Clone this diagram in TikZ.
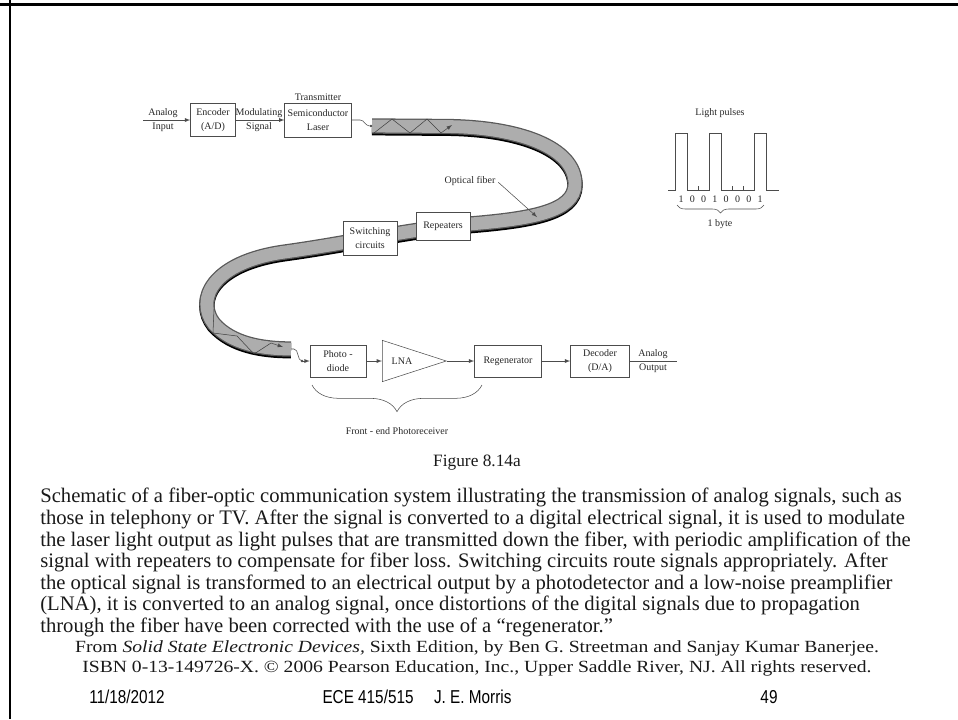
\documentclass[tikz,border=0pt]{standalone}
\usepackage{fontspec}
\setmainfont{Liberation Serif}
\newfontfamily\narrowsf[FakeStretch=0.82]{Liberation Sans}
\newfontfamily\widerm[FakeStretch=1.15]{Liberation Serif}
\usetikzlibrary{shapes.geometric,decorations.pathreplacing}
\newcommand\figsize{\fontsize{7.5}{10.5}\selectfont}
\newcommand\capsize{\fontsize{15.5}{16}\selectfont}

\begin{document}
\begin{tikzpicture}[x=0.75pt,y=-0.75pt]
\tikzstyle{box}=[draw=black!70,fill=white,align=center,inner sep=0pt,text=black!85,font=\figsize];
\tikzstyle{lbl}=[text=black!85,font=\figsize,inner sep=0pt];
\tikzstyle{sig}=[->,>=latex,black!70];
\tikzstyle{wire}=[black!70];
\tikzstyle{captxt}=[anchor=west,inner sep=0pt,font=\capsize,text=black!90];
\tikzstyle{src}=[inner sep=0pt,font=\widerm\fontsize{12.8}{14}\selectfont,text=black!90];
\tikzstyle{foot}=[inner sep=0pt,font=\narrowsf\fontsize{14}{16}\selectfont];
\def\fiberpath{(372,126) -- (445,126.5) .. controls (520,127) and (575,148) .. (575,184)
  .. controls (575,212) and (530,219) .. (470,224) .. controls (410,229) and (350,243) .. (285,252)
  .. controls (212,262) and (195,300) .. (214,324) .. controls (232,344) and (262,349) .. (291,349)}

\useasboundingbox (0,0) rectangle (958,719);
\draw [line width=2.2pt] (0,4.5) -- (958,4.5);
\draw [line width=2.2pt] (10,0) -- (10,719);

% transmitter side
\node [box,minimum width=33.75pt,minimum height=24.75pt] (v1) at (213,120) {Encoder\\(A/D)};
\node [box,minimum width=50pt,minimum height=25.5pt] (v2) at (318,120) {Semiconductor\\Laser};
\node [lbl] (v3) at (163,113) {Analog};
\node [lbl] (v4) at (163,127) {Input};
\node [lbl] (v5) at (259,113) {Modulating};
\node [lbl] (v6) at (259,127) {Signal};
\node [lbl] (v7) at (318,97) {Transmitter};
\coordinate (c1) at (143,120);
\draw [sig] (c1) -- (v1);
\draw [sig] (v1) -- (v2);

% fiber
\draw [line width=11.5pt,black,yshift=-1.3pt] \fiberpath;
\draw [line width=11.5pt,black!65] \fiberpath;
\draw [line width=9.6pt,black!32] \fiberpath;
\coordinate (f1) at (371,126);
\coordinate (f2) at (291,349);
\draw [wire] (v2.east) -- (360,120) .. controls (365,120) and (364,126) .. (f1);
\fill [black!70] (f1) circle (1pt);
\draw [black!75] (374,133) -- (392,119) -- (410,133) -- (427,119) -- (441,133);
\draw [sig] (441,133) -- (452,125);
\draw [black!75] (214,309) -- (213,333) -- (237,336) -- (254,354) -- (271,343);
\draw [sig] (271,343) -- (283,347);
\node [box,minimum width=40.5pt,minimum height=21pt] (v8) at (443,226) {Repeaters};
\node [box,minimum width=40.5pt,minimum height=25.5pt] (v9) at (370,238) {Switching\\circuits};
\node [lbl] (v20) at (470,181) {Optical fiber};
\coordinate (c3) at (537,217);
\draw [sig] ([xshift=2pt,yshift=-1pt]v20.east) -- (c3);

% light pulses
\node [lbl] (v21) at (720,113) {Light pulses};
\draw [wire] (668,190) -- (675,190) -- (675,133) -- (687,133) -- (687,190) -- (709,190) -- (709,133)
  -- (721,133) -- (721,190) -- (754,190) -- (754,133) -- (766,133) -- (766,190) -- (779,190);
\draw [wire] (698,190) -- (698,186);
\draw [wire] (732,190) -- (732,186);
\draw [wire] (743,190) -- (743,186);
\node [lbl] (b1) at (681,199) {1};
\node [lbl] (b2) at (692.3,199) {0};
\node [lbl] (b3) at (703.6,199) {0};
\node [lbl] (b4) at (714.9,199) {1};
\node [lbl] (b5) at (726.2,199) {0};
\node [lbl] (b6) at (737.5,199) {0};
\node [lbl] (b7) at (748.8,199) {0};
\node [lbl] (b8) at (760.1,199) {1};
\draw [wire,decorate,decoration={brace,mirror,amplitude=6pt}] (677,205) -- (764,205);
\node [lbl] (v22) at (720,224) {1 byte};

% receiver side
\node [box,minimum width=42pt,minimum height=24pt] (v10) at (338,361) {Photo -\\diode};
\node [draw=black!70,isosceles triangle,isosceles triangle stretches,inner sep=0pt,
  minimum width=31pt,minimum height=48pt,anchor=west] (v11) at (382,361) {};
\node [lbl] (v12) at (402,361) {LNA};
\node [box,minimum width=50.25pt,minimum height=24pt] (v13) at (508,361) {Regenerator};
\node [box,minimum width=44.25pt,minimum height=24pt] (v14) at (600,361) {Decoder\\(D/A)};
\node [lbl] (v15) at (653,354) {Analog};
\node [lbl] (v16) at (653,368) {Output};
\coordinate (c2) at (302,361);
\coordinate (c4) at (677,361);
\draw [wire] (f2) -- (294,349) .. controls (299,349) and (297,361) .. (c2);
\fill [black!70] (c2) circle (1pt);
\draw [sig] (c2) -- (v10);
\draw [sig] (v10) -- (v11.west);
\draw [sig] (v11.apex) -- (v13);
\draw [sig] (v13) -- (v14);
\draw [wire] (v14) -- (c4);
\draw [wire,decorate,decoration={brace,mirror,amplitude=20pt}] (312,385) -- (482,385);
\node [lbl] (v17) at (397,431) {Front - end Photoreceiver};

% caption
\node [inner sep=0pt,font=\fontsize{13}{15}\selectfont,text=black!90] (l0) at (477,463) {Figure 8.14a};
\node [captxt] (l1) at (40,497) {Schematic of a fiber-optic communication system illustrating the transmission of analog signals, such as};
\node [captxt] (l2) at (40,519) {those in telephony or TV. After the signal is converted to a digital electrical signal, it is used to modulate};
\node [captxt] (l3) at (40,541) {the laser light output as light pulses that are transmitted down the fiber, with periodic amplification of the};
\node [captxt] (l4) at (40,562) {signal with repeaters to compensate for fiber loss. Switching circuits route signals appropriately. After};
\node [captxt] (l5) at (40,584) {the optical signal is transformed to an electrical output by a photodetector and a low-noise preamplifier};
\node [captxt] (l6) at (40,605) {(LNA), it is converted to an analog signal, once distortions of the digital signals due to propagation};
\node [captxt] (l7) at (40,627) {through the fiber have been corrected with the use of a “regenerator.”};
\node [src] (l8) at (477,648) {From \textit{Solid State Electronic Devices,} Sixth Edition, by Ben G. Streetman and Sanjay Kumar Banerjee.};
\node [src] (l9) at (477,668) {ISBN 0-13-149726-X. © 2006 Pearson Education, Inc., Upper Saddle River, NJ. All rights reserved.};
\node [foot] (l10) at (127,697) {11/18/2012};
\node [foot] (l11) at (417,697) {ECE 415/515\hspace{1.1em}J. E. Morris};
\node [foot] (l12) at (769,697) {49};
\end{tikzpicture}
\end{document}
